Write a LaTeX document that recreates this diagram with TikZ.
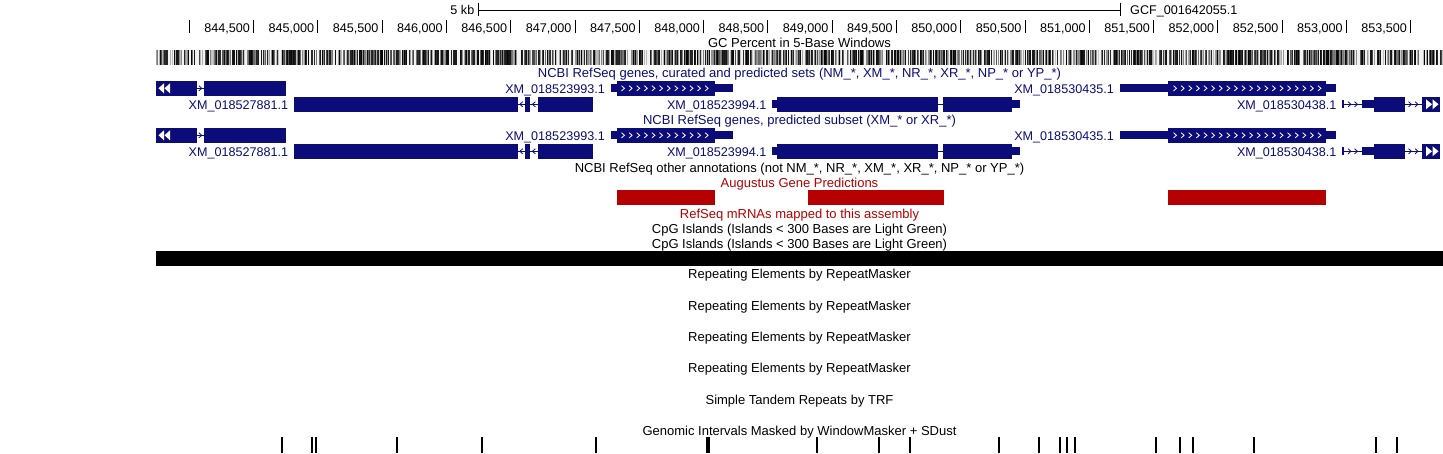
\documentclass[tikz,border=0pt]{standalone}
\usepackage{fontspec}
\setmainfont{Liberation Sans}
\definecolor{navy}{RGB}{12,12,120}
\definecolor{augred}{RGB}{180,0,0}
\newcommand\gEx[3]{\fill[navy] (#1,#3-7.3) rectangle (#2,#3+7.3);}
\newcommand\gUtr[3]{\fill[navy] (#1,#3-4) rectangle (#2,#3+4);}
\newcommand\gIn[3]{\draw[navy,line width=1pt] (#1,#3) -- (#2,#3);}
\newcommand\gChR[3]{\draw[#3,line width=0.8pt] (#1-1.5,#2-2.6) -- (#1+1.5,#2) -- (#1-1.5,#2+2.6);}
\newcommand\gChL[3]{\draw[#3,line width=0.8pt] (#1+1.5,#2-2.6) -- (#1-1.5,#2) -- (#1+1.5,#2+2.6);}
% row with genes A, B, C
\newcommand\geneRowOne[2]{%
  \gIn{196.7}{204}{#1}
  \gEx{156}{196.7}{#1}
  \gEx{204}{285.7}{#1}
  \gChR{200.3}{#1}{navy}
  \fill[white] (158.5,#1) -- (164,#1-5) -- (164,#1+5) -- cycle;
  \fill[white] (164.5,#1) -- (170,#1-5) -- (170,#1+5) -- cycle;
  \gUtr{611}{617}{#1}\gEx{617}{715}{#1}\gUtr{715}{733.3}{#1}
  \foreach \i in {0,...,11}{\gChR{623+7.6*\i}{#1}{white}}
  \gUtr{1120}{1168.3}{#1}\gEx{1168.3}{1326}{#1}\gUtr{1326}{1336}{#1}
  \foreach \i in {0,...,19}{\gChR{1175+7.6*\i}{#1}{white}}
  \node[glab] (lb#2) at (605,#1+4.7) {XM\_018523993.1};
  \node[glab] (lc#2) at (1114,#1+4.7) {XM\_018530435.1};
}
% row with genes D, E, F
\newcommand\geneRowTwo[2]{%
  \gIn{517.7}{537.7}{#1}
  \gEx{294}{517.7}{#1}\gEx{525}{530}{#1}\gEx{537.7}{592.7}{#1}
  \gChL{521.3}{#1}{navy}\gChL{533.9}{#1}{navy}
  \gIn{938.3}{943.3}{#1}
  \gUtr{771.7}{777}{#1}\gEx{777}{938.3}{#1}\gEx{943.3}{1011.7}{#1}\gUtr{1011.7}{1020}{#1}
  \gIn{1344}{1421.7}{#1}
  \gUtr{1341.7}{1344}{#1}
  \gChR{1349.5}{#1}{navy}\gChR{1356}{#1}{navy}
  \gUtr{1361.7}{1374.3}{#1}\gEx{1374.3}{1405}{#1}
  \gChR{1410}{#1}{navy}\gChR{1416.5}{#1}{navy}
  \gEx{1421.7}{1440}{#1}
  \fill[white] (1426,#1-5) -- (1432,#1) -- (1426,#1+5) -- cycle;
  \fill[white] (1432.5,#1-5) -- (1438.5,#1) -- (1432.5,#1+5) -- cycle;
  \node[glab] (ld#2) at (288.3,#1+4.7) {XM\_018527881.1};
  \node[glab] (le#2) at (766.7,#1+4.7) {XM\_018523994.1};
  \node[glab] (lf#2) at (1336.7,#1+4.7) {XM\_018530438.1};
}
\begin{document}
\begin{tikzpicture}[x=1pt,y=-1pt,
  lab/.style={font=\fontsize{13}{15}\selectfont, inner sep=0pt, anchor=base},
  glab/.style={font=\fontsize{12.6}{15}\selectfont, inner sep=0pt, anchor=base east, text=navy},
  rlab/.style={font=\fontsize{12.6}{15}\selectfont, inner sep=0pt, anchor=base east},
  llab/.style={font=\fontsize{12.6}{15}\selectfont, inner sep=0pt, anchor=base west},
  maskbar/.style={fill=black},
  augbox/.style={fill=augred}]
\useasboundingbox (0,0) rectangle (1443,453);
\fill[white] (0,0) rectangle (1443,453);
% scale bar
\coordinate (sbl) at (478.3,10);
\coordinate (sbr) at (1120,10);
\draw[line width=1pt] (sbl) -- (sbr);
\draw[line width=1pt] (478.3,2.7) -- (478.3,16);
\draw[line width=1pt] (1120,2.7) -- (1120,16);
\node[rlab] (kb) at (474.5,14.7) {5 kb};
\node[llab] (gcf) at (1130,14.7) {GCF\_001642055.1};
% ruler
\foreach \k in {0,...,19}{
  \pgfmathsetmacro\xx{189.3+64.284*\k}
  \draw[line width=1pt] (\xx,20) -- (\xx,33.3);
}
\foreach \k in {1,...,19}{
  \pgfmathsetmacro\xx{189.3+64.284*\k}
  \pgfmathtruncatemacro\th{844+floor(\k/2)}
  \pgfmathtruncatemacro\od{mod(\k,2)}
  \node[rlab] (rl\k) at (\xx-3.5,32.3) {\th,\ifnum\od=1 500\else 000\fi};
}
% GC percent
\pgfmathsetseed{11}
\foreach \i in {156,...,1442}{
  \pgfmathsetmacro\r{rnd}
  \pgfmathtruncatemacro\g{\r<0.22 ? 5 : (\r<0.60 ? 82+18*rnd : 20+55*rnd)}
  \fill[black!\g] (\i,50) rectangle (\i+1,65);
}
\node[lab] (gc) at (799.5,47.9) {GC Percent in 5-Base Windows};
% RefSeq curated
\node[lab,text=navy] (rscur) at (799.5,77.7) {NCBI RefSeq genes, curated and predicted sets (NM\_*, XM\_*, NR\_*, XR\_*, NP\_* or YP\_*)};
\geneRowOne{88.3}{1}
\geneRowTwo{104.3}{2}
% RefSeq predicted
\node[lab,text=navy] (rspred) at (799.5,124.7) {NCBI RefSeq genes, predicted subset (XM\_* or XR\_*)};
\geneRowOne{135.3}{3}
\geneRowTwo{151.3}{4}
% other
\node[lab] (rsoth) at (799.5,172) {NCBI RefSeq other annotations (not NM\_*, NR\_*, XM\_*, XR\_*, NP\_* or YP\_*)};
\node[lab,text=augred] (aug) at (799.5,187.7) {Augustus Gene Predictions};
\fill[augbox] (617,190) rectangle (715,205);
\fill[augbox] (808,190) rectangle (944,205);
\fill[augbox] (1168.3,190) rectangle (1326,205);
\node[lab,text=augred] (mrna) at (799.5,218.8) {RefSeq mRNAs mapped to this assembly};
\node[lab] (cpg1) at (799.5,233.9) {CpG Islands (Islands < 300 Bases are Light Green)};
\node[lab] (cpg2) at (799.5,248.9) {CpG Islands (Islands < 300 Bases are Light Green)};
\fill[black] (156,251) rectangle (1443,266);
\node[lab] (rm1) at (799.5,278.8) {Repeating Elements by RepeatMasker};
\node[lab] (rm2) at (799.5,310.1) {Repeating Elements by RepeatMasker};
\node[lab] (rm3) at (799.5,341.5) {Repeating Elements by RepeatMasker};
\node[lab] (rm4) at (799.5,372.8) {Repeating Elements by RepeatMasker};
\node[lab] (trf) at (799.5,404) {Simple Tandem Repeats by TRF};
\node[lab] (wm) at (799.5,435) {Genomic Intervals Masked by WindowMasker + SDust};
\foreach \t in {282,311.5,316,397,482,595.5,817,878.5,909.5,998.5,1038.5,1060,1066.5,1074.5,1156,1179.5,1193,1253.5,1376,1397}{
  \fill[maskbar] (\t-1,437) rectangle (\t+1,453);
}
\fill[maskbar] (705.5,437) rectangle (709.5,453);
\end{tikzpicture}
\end{document}
